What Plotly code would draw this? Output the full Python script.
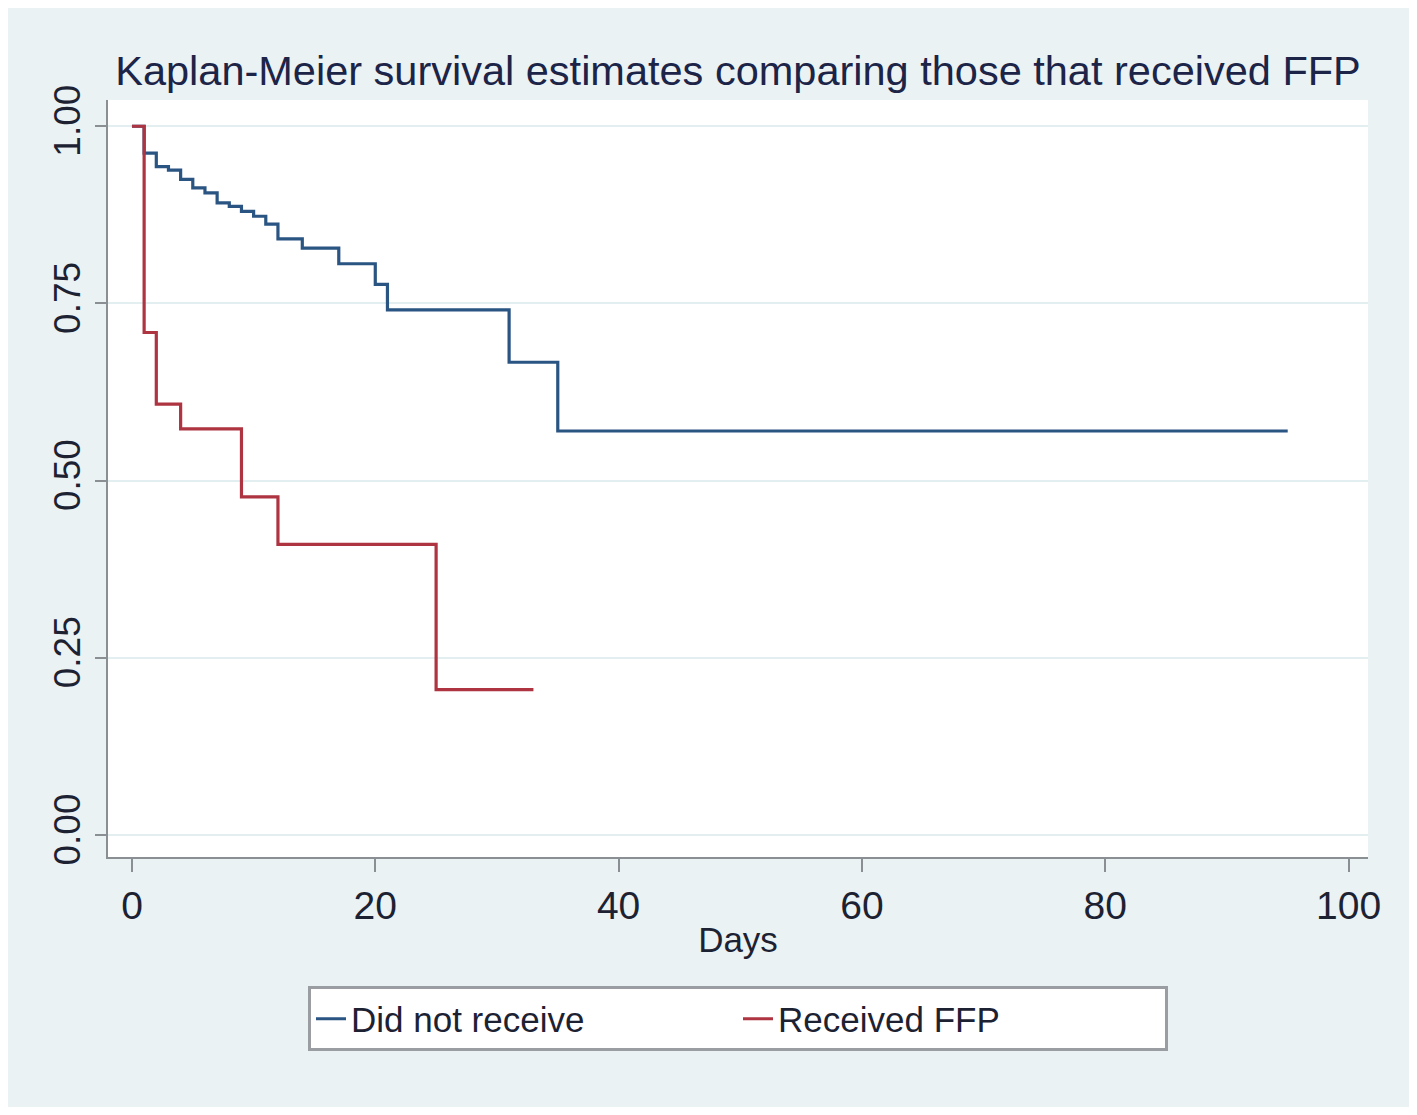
import plotly.graph_objects as go

# Kaplan-Meier step data
days_not = [0, 1, 2, 3, 4, 5, 6, 7, 8, 9, 10, 11, 12, 14, 17, 20, 21, 31, 35, 95]
surv_not = [1.0, 0.962, 0.943, 0.938, 0.925, 0.913, 0.906, 0.892, 0.887, 0.880,
            0.873, 0.862, 0.841, 0.828, 0.806, 0.777, 0.741, 0.667, 0.570, 0.570]

days_ffp = [0, 1, 2, 4, 9, 12, 25, 33]
surv_ffp = [1.0, 0.709, 0.608, 0.573, 0.477, 0.410, 0.205, 0.205]

x_ticks = [0, 20, 40, 60, 80, 100]
y_ticks = [0.0, 0.25, 0.5, 0.75, 1.0]
y_tick_labels = ["0.00", "0.25", "0.50", "0.75", "1.00"]

FONT = "Liberation Sans, Arial, sans-serif"
BLUE = "#2a5583"
RED = "#ad3440"
TXT = "#1d2233"

fig = go.Figure()
fig.add_trace(go.Scatter(x=days_not, y=surv_not, mode="lines", name="Did not receive",
                         line=dict(shape="hv", color=BLUE, width=3.2)))
fig.add_trace(go.Scatter(x=days_ffp, y=surv_ffp, mode="lines", name="Received FFP",
                         line=dict(shape="hv", color=RED, width=3.2)))

fig.update_layout(
    width=1417, height=1115,
    margin=dict(l=108, r=49, t=100, b=258),
    paper_bgcolor="#eaf2f3",
    plot_bgcolor="white",
    font=dict(family=FONT, color=TXT, size=36),
    title=dict(text="Kaplan-Meier survival estimates comparing those that received FFP",
               x=0.5, xref="paper", xanchor="center", y=1 - 70 / 1115, yanchor="middle",
               font=dict(size=41.5, color="#1c2448", family=FONT)),
    xaxis=dict(range=[-1.97, 101.6], tickvals=x_ticks, ticks="outside", ticklen=13,
               tickwidth=2, tickcolor="#8a8f94", showline=True, linecolor="#8a8f94",
               linewidth=2, showgrid=False, zeroline=False,
               tickfont=dict(size=39), title=dict(text="Days", font=dict(size=35), standoff=2)),
    yaxis=dict(range=[-0.031, 1.037], tickvals=y_ticks, ticktext=y_tick_labels,
               tickangle=-90, ticks="outside", ticklen=11, tickwidth=2,
               tickcolor="#8a8f94", showline=True, linecolor="#8a8f94", linewidth=2,
               showgrid=True, gridcolor="#e3eef0", gridwidth=2, zeroline=False,
               tickfont=dict(size=37), ticklabelstandoff=0),
    legend=dict(orientation="h", x=0.5, xanchor="center", y=-0.214, yanchor="middle",
                bgcolor="white", bordercolor="#9a9ea2", borderwidth=3,
                font=dict(size=35, color=TXT), entrywidth=382, itemwidth=30),
    showlegend=True,
)

# thin white page border around the outer background
fig.add_shape(type="rect", xref="paper", yref="paper",
              x0=-108 / 1260, x1=(1417 - 108) / 1260, y0=(857 - 1115) / 757, y1=857 / 757,
              line=dict(color="white", width=16), fillcolor="rgba(0,0,0,0)", layer="above")

fig.write_html("out.html")
